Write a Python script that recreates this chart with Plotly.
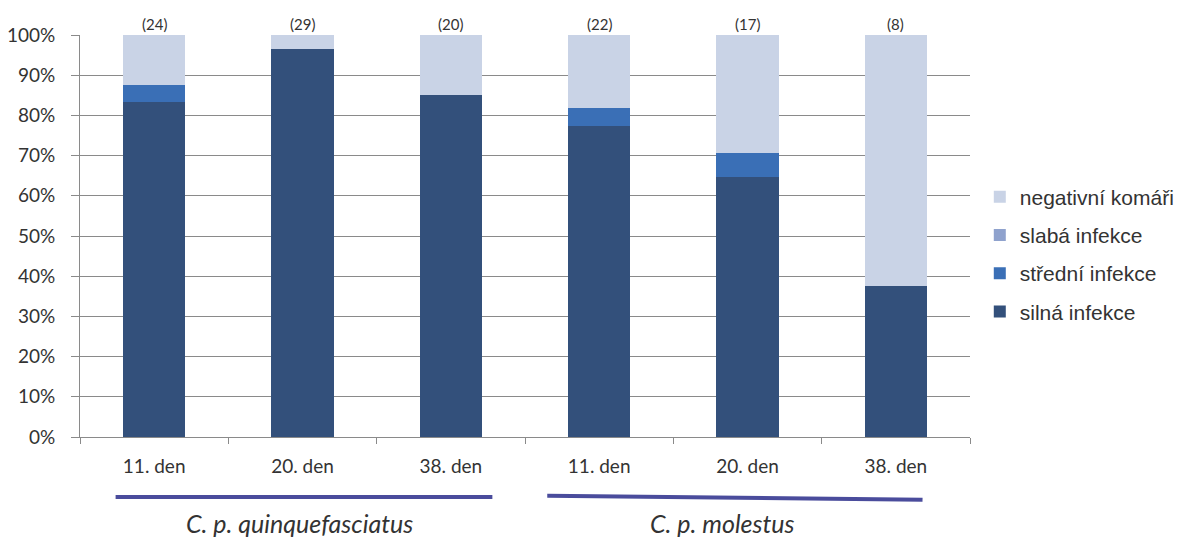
import plotly.graph_objects as go

# ---- data ----
groups = ["C. p. quinquefasciatus", "C. p. quinquefasciatus", "C. p. quinquefasciatus",
          "C. p. molestus", "C. p. molestus", "C. p. molestus"]
days = ["11. den", "20. den", "38. den", "11. den", "20. den", "38. den"]
counts = [24, 29, 20, 22, 17, 8]

silna = [83.3, 96.6, 85.0, 77.3, 64.7, 37.5]
stredni = [4.2, 0.0, 0.0, 4.5, 5.9, 0.0]
slaba = [0.0, 0.0, 0.0, 0.0, 0.0, 0.0]
negativni = [12.5, 3.4, 15.0, 18.2, 29.4, 62.5]

y_ticks = [0, 10, 20, 30, 40, 50, 60, 70, 80, 90, 100]
y_tick_labels = [f"{v}%" for v in y_ticks]

series_names = ["silná infekce", "střední infekce", "slabá infekce", "negativní komáři"]
series_values = [silna, stredni, slaba, negativni]
series_colors = ["#33507b", "#3a6fb6", "#8fa2cd", "#c9d3e6"]

cats = [f"{g} | {d}" for g, d in zip(groups, days)]

fig = go.Figure()
for i, (name, vals, col) in enumerate(zip(series_names, series_values, series_colors)):
    fig.add_trace(go.Bar(
        x=cats, y=vals, name=name, legendgroup=name,
        legendrank=len(series_names) - i,
        marker=dict(color=col, line=dict(width=0)),
        hoverinfo="name+y",
    ))

# counts above bars
for c, n in zip(cats, counts):
    fig.add_annotation(x=c, y=100, yref="y", text=f"({n})", showarrow=False,
                       yanchor="bottom", yshift=0,
                       font=dict(family="Lato, sans-serif", size=15, color="#333333"))

# group underlines and labels
group_spans = [("C. p. quinquefasciatus", -0.26, 2.28, -0.149, -0.149, 0.98),
               ("C. p. molestus", 2.65, 5.18, -0.146, -0.156, 3.83)]
for label, x0, x1, y0, y1, xt in group_spans:
    fig.add_shape(type="line", xref="x", yref="paper", x0=x0, x1=x1, y0=y0, y1=y1,
                  line=dict(color="#4a4c9c", width=4))
    fig.add_annotation(xref="x", yref="paper", x=xt, y=-0.214,
                       text=f"<i>{label}</i>", showarrow=False, yanchor="middle",
                       font=dict(family="Lato, sans-serif", size=25, color="#333333"))

# page body has an 8px default margin: margins compensate for it
fig.update_layout(
    width=1184, height=539,
    margin=dict(l=72, r=220, t=27, b=110),
    barmode="stack", bargap=0.58,
    plot_bgcolor="white", paper_bgcolor="white",
    font=dict(family="Lato, sans-serif", size=16, color="#333333"),
    legend=dict(
        x=1.011, xanchor="left", y=0.454, yanchor="middle",
        traceorder="grouped", tracegroupgap=8,
        font=dict(family="Liberation Sans, Arial, sans-serif", size=21, color="#333333"),
        itemclick=False,
    ),
    showlegend=True,
)
fig.update_xaxes(
    tickvals=cats, ticktext=days, tickson="boundaries",
    ticks="outside", ticklen=6, tickcolor="#8a8a8a",
    showline=True, linecolor="#8a8a8a", linewidth=1,
    showgrid=False, ticklabelstandoff=12, automargin=False,
    tickfont=dict(family="Lato, sans-serif", size=19, color="#333333"),
)
fig.update_yaxes(
    range=[0, 100], tickvals=y_ticks, ticktext=y_tick_labels,
    ticks="outside", ticklen=8, tickcolor="#8a8a8a",
    showline=True, linecolor="#8a8a8a", linewidth=1,
    showgrid=True, gridcolor="#8a8a8a", gridwidth=1,
    zeroline=False, ticklabelstandoff=12, automargin=False,
    tickfont=dict(family="Lato, sans-serif", size=19, color="#333333"),
)

fig.write_html("out.html")
